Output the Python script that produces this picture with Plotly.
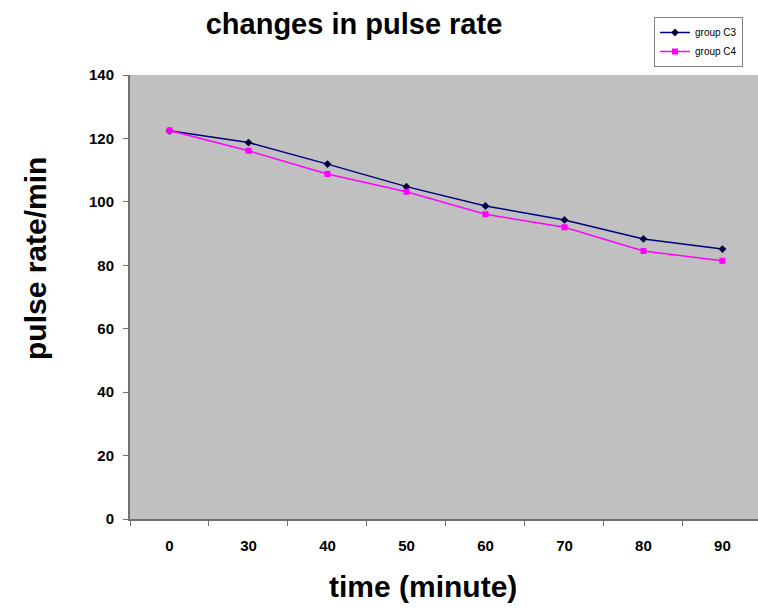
import plotly.graph_objects as go

time_labels = ["0", "30", "40", "50", "60", "70", "80", "90"]
group_c3 = [122.4, 118.7, 111.9, 104.8, 98.7, 94.3, 88.3, 85.1]
group_c4 = [122.5, 116.1, 108.8, 103.2, 96.1, 92.0, 84.5, 81.4]
y_ticks = [0, 20, 40, 60, 80, 100, 120, 140]

FONT = "Liberation Sans, Arial, sans-serif"
L, R, T, B = 130, 0, 75, 90
PW, PH = 758 - L - R, 609 - T - B


def px_x(x):
    return (x - L) / PW


def px_y(y):
    return (609 - B - y) / PH


fig = go.Figure()
fig.add_trace(go.Scatter(
    x=time_labels, y=group_c3, name="group C3", mode="lines+markers",
    line=dict(color="#000080", width=1.5),
    marker=dict(symbol="diamond", size=6, color="#000040"),
))
fig.add_trace(go.Scatter(
    x=time_labels, y=group_c4, name="group C4", mode="lines+markers",
    line=dict(color="#FF00FF", width=1.5),
    marker=dict(symbol="square", size=6, color="#FF00FF"),
))

fig.update_layout(
    width=758, height=609,
    margin=dict(l=L, r=R, t=T, b=B),
    paper_bgcolor="white", plot_bgcolor="#C0C0C0",
    font=dict(family=FONT, color="black"),
    title=dict(text="changes in pulse rate", x=354/758, xanchor="center",
               y=1 - 24/609, yanchor="middle", font=dict(size=29, weight="bold")),
    showlegend=True,
    legend=dict(x=px_x(654), y=px_y(17), xanchor="left", yanchor="top",
                bgcolor="white", bordercolor="#808080", borderwidth=1,
                font=dict(size=10), tracegroupgap=0),
    xaxis=dict(type="category", range=[-0.5, 7.45], tickson="boundaries",
               showgrid=False, zeroline=False,
               showline=True, linecolor="#707070", linewidth=2,
               ticks="outside", ticklen=5, tickcolor="#707070",
               tickfont=dict(size=15, weight="bold"), ticklabelstandoff=12),
    yaxis=dict(range=[0, 140], tickvals=y_ticks, showgrid=False, zeroline=False,
               showline=True, linecolor="#707070", linewidth=2,
               ticks="outside", ticklen=5, tickcolor="#707070",
               tickfont=dict(size=15, weight="bold"), ticklabelstandoff=6),
    annotations=[
        dict(text="time (minute)", xref="paper", yref="paper",
             x=px_x(423), y=px_y(586), xanchor="center", yanchor="middle",
             showarrow=False, font=dict(size=30, weight="bold")),
        dict(text="pulse rate/min", xref="paper", yref="paper",
             x=px_x(35), y=px_y(259), xanchor="center", yanchor="middle",
             textangle=-90, showarrow=False, font=dict(size=30, weight="bold")),
    ],
)

fig.write_html("out.html")
